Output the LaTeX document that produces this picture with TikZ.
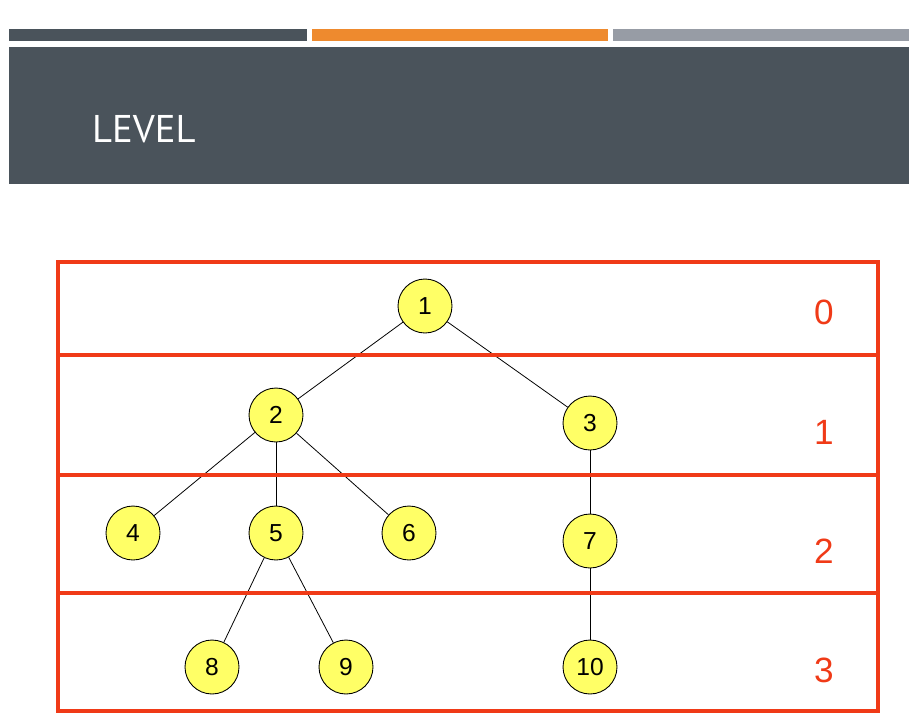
\documentclass[tikz,border=0pt]{standalone}
\usepackage{fontspec}
\setmainfont{Liberation Sans}
\newfontfamily\titlefont{PT Sans}
\pgfdeclarelayer{paper}
\pgfdeclarelayer{lines}
\pgfsetlayers{paper,lines,main}
\definecolor{slate}{HTML}{4A535B}
\definecolor{barorange}{HTML}{EE8A2E}
\definecolor{bargray}{HTML}{979CA5}
\definecolor{levelred}{HTML}{F03A17}
\definecolor{nodeyellow}{HTML}{FFFF66}
\begin{document}
\begin{tikzpicture}[x=0.02cm, y=-0.02cm, line join=miter,
    vertex/.style={circle, draw=black, line width=0.5pt, fill=nodeyellow, minimum size=1.08cm, inner sep=0pt, font=\fontsize{14}{16}\selectfont},
    edge/.style={line width=0.45pt},
    levelbox/.style={draw=levelred, line width=2.3pt},
    levelnum/.style={text=levelred, font=\fontsize{20}{24}\selectfont}]
    \begin{pgfonlayer}{paper}
        \useasboundingbox[fill=white] (0, 0) rectangle (915, 724);
    \end{pgfonlayer}

    % header
    \fill[slate] (9, 29) rectangle (307, 41);
    \fill[barorange] (312, 29) rectangle (608, 41);
    \fill[bargray] (613, 29) rectangle (909, 41);
    \fill[slate] (9, 47) rectangle (909, 184);
    \node[anchor=west, text=white, font=\titlefont\fontsize{22}{26}\selectfont] (title) at (86, 129) {LEVEL};

    % tree nodes
    \node[vertex] (n1) at (425, 306) {1};
    \node[vertex] (n2) at (276, 415) {2};
    \node[vertex] (n3) at (590, 423) {3};
    \node[vertex] (n4) at (133, 533) {4};
    \node[vertex] (n5) at (276, 533) {5};
    \node[vertex] (n6) at (409, 533) {6};
    \node[vertex] (n7) at (590, 541) {7};
    \node[vertex] (n8) at (212, 667) {8};
    \node[vertex] (n9) at (346, 667) {9};
    \node[vertex] (n10) at (590, 667) {10};

    \begin{pgfonlayer}{lines}
        % edges
        \draw[edge] (n1) -- (n2);
        \draw[edge] (n1) -- (n3);
        \draw[edge] (n2) -- (n4);
        \draw[edge] (n2) -- (n5);
        \draw[edge] (n2) -- (n6);
        \draw[edge] (n3) -- (n7);
        \draw[edge] (n5) -- (n8);
        \draw[edge] (n5) -- (n9);
        \draw[edge] (n7) -- (n10);

        % level boxes
        \draw[levelbox] (58, 262) rectangle (878, 711);
        \draw[levelbox] (58, 355) -- (878, 355);
        \draw[levelbox] (58, 475) -- (878, 475);
        \draw[levelbox] (58, 593) -- (878, 593);
    \end{pgfonlayer}

    % level numbers
    \node[levelnum] (l0) at (824, 312) {0};
    \node[levelnum] (l1) at (824, 432) {1};
    \node[levelnum] (l2) at (824, 551) {2};
    \node[levelnum] (l3) at (824, 670) {3};
\end{tikzpicture}
\end{document}
